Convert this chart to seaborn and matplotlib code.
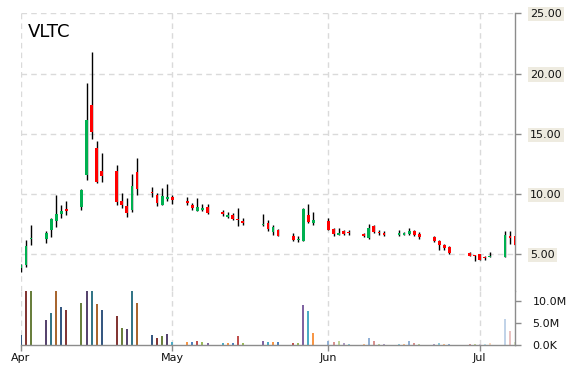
import numpy as np
import pandas as pd
import matplotlib
matplotlib.use("Agg")
import matplotlib.pyplot as plt
import matplotlib.dates as mdates
from matplotlib.ticker import FixedLocator, FuncFormatter
import seaborn as sns

# ---------------- data ----------------
dates = (
    ["2020-04-%02d" % d for d in [1, 2, 3, 6, 7, 8, 9, 10, 13, 14, 15, 16, 17, 20, 21, 22, 23, 24, 27, 28, 29, 30]]
    + ["2020-05-%02d" % d for d in [1, 4, 5, 6, 7, 8, 11, 12, 13, 14, 15, 19, 20, 21, 22, 25, 26, 27, 28, 29]]
    + ["2020-06-%02d" % d for d in [1, 2, 3, 4, 5, 8, 9, 10, 11, 12, 15, 16, 17, 18, 19, 22, 23, 24, 25, 29, 30]]
    + ["2020-07-%02d" % d for d in [1, 2, 3, 6, 7, 8]]
)
opens = [3.85, 4.07, 6.25, 6.23, 7.04, 7.73, 8.31, 8.66, 8.92, 11.55, 17.37, 13.85, 11.88, 11.94, 9.44, 9.03, 8.69, 11.86, 10.19, 9.94, 9.11, 9.61,
         9.72, 9.31, 9.08, 8.61, 8.69, 8.89, 8.47, 8.11, 8.22, 7.89, 7.69, 7.39, 7.58, 6.83, 7.03, 6.53, 6.14, 6.11, 8.28, 7.58,
         7.72, 7.11, 6.56, 6.94, 6.81, 6.64, 6.33, 7.36, 6.83, 6.75, 6.61, 6.61, 6.69, 6.89, 6.67, 6.42, 6.06, 5.72, 5.56, 5.08, 4.86,
         4.97, 4.72, 4.72, 4.72, 6.42, 6.47]
highs = [4.15, 6.15, 7.40, 6.93, 8.03, 9.89, 9.11, 9.45, 10.39, 19.17, 21.75, 14.40, 13.43, 12.44, 10.08, 9.67, 11.69, 13.00, 10.58, 10.08, 10.50, 10.86,
         9.94, 9.75, 9.25, 9.67, 9.17, 9.17, 8.64, 8.53, 8.44, 8.83, 8.00, 8.36, 7.86, 7.44, 7.08, 6.78, 6.47, 8.83, 9.19, 8.47,
         8.00, 7.17, 7.17, 7.03, 6.97, 6.78, 7.53, 7.44, 6.97, 6.89, 7.03, 6.81, 7.17, 7.03, 6.81, 6.47, 6.19, 5.86, 5.64, 5.14, 4.92,
         5.03, 4.86, 5.14, 6.94, 6.94, 6.47]
lows = [3.52, 3.93, 5.79, 5.96, 6.43, 7.26, 8.00, 8.25, 8.70, 11.14, 14.54, 10.91, 11.00, 9.11, 8.83, 8.06, 8.47, 9.94, 9.72, 8.97, 9.05, 9.39,
        9.19, 9.06, 8.64, 8.56, 8.56, 8.33, 8.14, 8.00, 7.86, 7.31, 7.39, 7.31, 6.94, 6.61, 6.47, 6.11, 6.00, 6.11, 7.58, 7.44,
        7.00, 6.47, 6.56, 6.56, 6.56, 6.42, 6.28, 6.75, 6.61, 6.47, 6.53, 6.56, 6.61, 6.47, 6.28, 5.97, 5.36, 5.36, 5.03, 4.81, 4.44,
        4.47, 4.53, 4.72, 4.72, 5.83, 5.78]
closes = [4.07, 5.65, 6.32, 6.76, 7.90, 8.31, 8.56, 8.60, 10.30, 16.12, 15.15, 11.00, 11.50, 9.31, 9.06, 8.39, 10.69, 10.42, 10.06, 9.28, 9.86, 9.78,
          9.53, 9.25, 8.81, 8.89, 8.86, 8.45, 8.36, 8.25, 7.94, 7.81, 7.61, 7.53, 7.11, 7.28, 6.53, 6.19, 6.19, 8.78, 7.67, 7.86,
          7.03, 6.67, 6.75, 6.69, 6.75, 6.47, 7.17, 6.83, 6.75, 6.58, 6.75, 6.75, 6.89, 6.58, 6.39, 6.06, 5.72, 5.50, 5.08, 4.86, 4.81,
          4.53, 4.64, 4.81, 6.61, 6.36, 5.78]
volumes_m = [2.3, 14.0, 13.5, 5.7, 7.2, 15.0, 8.6, 7.9, 9.5, 40.0, 35.0, 9.3, 7.9, 6.6, 3.9, 3.7, 18.0, 9.5, 2.3, 1.6, 2.1, 2.5,
             0.75, 0.75, 0.75, 1.0, 0.75, 0.5, 0.5, 0.5, 0.5, 2.1, 0.5, 1.0, 0.75, 0.75, 0.75, 0.5, 0.5, 9.0, 7.7, 2.8,
             1.0, 0.75, 1.0, 0.5, 0.3, 0.3, 1.6, 1.0, 0.3, 0.3, 0.3, 0.3, 1.0, 0.5, 0.3, 0.3, 0.5, 0.3, 0.3, 0.3, 0.3,
             0.3, 0.3, 0.5, 5.9, 3.2, 0.8]
price_ticks = [5, 10, 15, 20, 25]
volume_ticks_m = [0, 5, 10]
month_starts = ["2020-04-01", "2020-05-01", "2020-06-01", "2020-07-01"]
month_labels = ["Apr", "May", "Jun", "Jul"]
ticker = "VLTC"

# ---------------- style ----------------
sns.set_style("white")
plt.rcParams["font.family"] = ["DejaVu Sans"]

W, H = 570, 370
fig = plt.figure(figsize=(W / 100, H / 100), dpi=100)
fig.patch.set_facecolor("white")

x_left, x_right = 21, 515
y_top, y_mid, y_bot = 13.3, 291, 345.3
px_per_unit = 12.04
price_lo = 25 - (y_mid - y_top) / px_per_unit
vol_px_per_m = 4.46
vol_hi = (y_bot - y_mid) / vol_px_per_m

ax = fig.add_axes([x_left / W, 1 - y_mid / H, (x_right - x_left) / W, (y_mid - y_top) / H])
axv = fig.add_axes([x_left / W, 1 - y_bot / H, (x_right - x_left) / W, (y_bot - y_mid) / H], sharex=ax)

df = pd.DataFrame({"date": pd.to_datetime(dates), "open": opens, "high": highs,
                   "low": lows, "close": closes, "vol": volumes_m})
xs = mdates.date2num(df["date"])
x0 = mdates.date2num(pd.Timestamp("2020-04-01"))
x1 = mdates.date2num(pd.Timestamp("2020-07-08"))

grid_col = "#dadada"
axis_col = "#8c8c8c"

# month grid lines
for m in month_starts:
    mx = mdates.date2num(pd.Timestamp(m))
    for a in (ax, axv):
        a.axvline(mx, color=grid_col, lw=1, ls=(0, (4, 3)), zorder=0)
for p in price_ticks:
    ax.axhline(p, color=grid_col, lw=1, ls=(0, (4, 3)), zorder=0)

# candles
up_col, down_col = "#00b050", "#ff0000"
ax.vlines(xs, df["low"], df["high"], color="black", lw=1.0, zorder=2)
body_bottom = np.minimum(df["open"], df["close"])
body_h = np.maximum(np.abs(df["close"] - df["open"]), 0.12)
colors = np.where(df["close"] >= df["open"], up_col, down_col)
ax.bar(xs, body_h, bottom=body_bottom, width=0.55, color=colors, linewidth=0, zorder=3)

# volume bars
base = sns.color_palette(["#4F81BD", "#C0504D", "#9BBB59", "#8064A2", "#4BACC6", "#F79646"])
vcols = []
for i, d in enumerate(df["date"]):
    c = np.array(base[i % 6])
    if d.month == 4:
        c = c * 0.68
    elif d.month == 6:
        c = c * 0.62 + 0.38
    elif d.month == 7:
        c = c * 0.35 + 0.65
    vcols.append(tuple(c))
axv.bar(xs, df["vol"], width=0.4, color=vcols, linewidth=0, zorder=2)

# axes limits
ax.set_xlim(x0, x1)
ax.set_ylim(price_lo, 25)
axv.set_ylim(0, vol_hi)

# spines
for a in (ax, axv):
    for s in ("top", "left", "bottom"):
        a.spines[s].set_visible(False)
    a.spines["right"].set_color(axis_col)
    a.spines["right"].set_linewidth(1)
    a.yaxis.tick_right()
axv.spines["bottom"].set_visible(True)
axv.spines["bottom"].set_color(axis_col)
axv.spines["bottom"].set_linewidth(1)

# price ticks
ax.yaxis.set_major_locator(FixedLocator(price_ticks))
ax.yaxis.set_major_formatter(FuncFormatter(lambda v, p: "%.2f" % v))
ax.tick_params(axis="y", right=True, left=False, length=4, width=1, color=axis_col,
               pad=7, labelsize=8, labelcolor="#111111")
for t in ax.get_yticklabels():
    t.set_bbox(dict(facecolor="#eeebe0", edgecolor="none", pad=1.5))
ax.tick_params(axis="x", bottom=False, labelbottom=False)

# volume ticks
axv.yaxis.set_major_locator(FixedLocator(volume_ticks_m))
axv.yaxis.set_major_formatter(FuncFormatter(lambda v, p: "0.0K" if v == 0 else "%.1fM" % v))
axv.tick_params(axis="y", right=True, left=False, length=4, width=1, color=axis_col,
                pad=8.5, labelsize=8, labelcolor="#111111")

# month ticks
axv.set_xticks(mdates.date2num(pd.to_datetime(month_starts)))
axv.set_xticklabels(month_labels)
axv.tick_params(axis="x", bottom=True, length=4, width=1, color=axis_col, pad=1.5,
                labelsize=8, labelcolor="#111111")

ax.set_facecolor("white")
axv.set_facecolor("white")

fig.text(28 / W, 1 - 37 / H, ticker, fontsize=13, color="black", va="baseline", ha="left")

fig.savefig("out.png", dpi=100, facecolor="white")
